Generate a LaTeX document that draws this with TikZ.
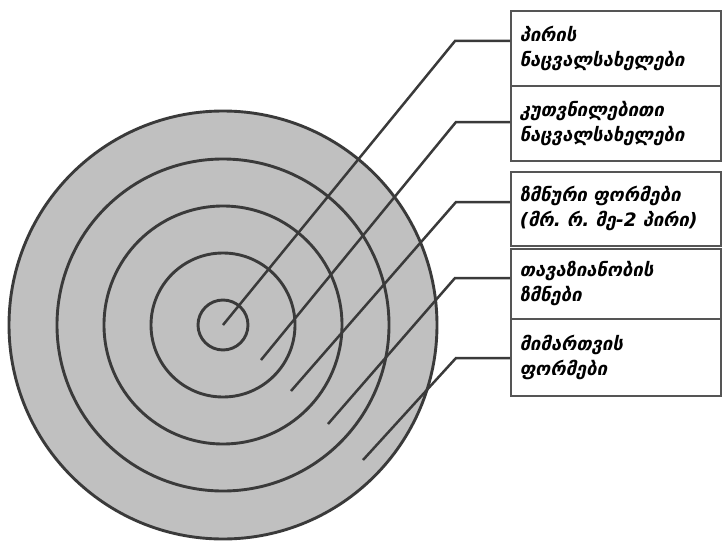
\documentclass[tikz,border=0pt]{standalone}
\usepackage{fontspec}
\newfontfamily\geofont[Script=Georgian]{DejaVu Sans}
\usepackage{tikz}
\definecolor{ringGray}{RGB}{192,192,192}
\definecolor{inkGray}{RGB}{58,58,58}
\definecolor{frameGray}{RGB}{85,85,85}

\begin{document}
\begin{tikzpicture}[x=1pt, y=-1pt,
  ring/.style={draw=inkGray, line width=2.9pt},
  leader/.style={draw=inkGray, line width=2.5pt},
  tag/.style={draw=frameGray, line width=1.6pt, anchor=north west, minimum width=210pt, text width=192pt, inner xsep=9pt, align=left, font=\geofont\bfseries\itshape\fontsize{18.5}{25}\selectfont}]
\useasboundingbox (0,0) rectangle (723,543);
% target rings
\coordinate (c) at (223,325);
\fill[ringGray] (c) circle[radius=214pt];
\foreach \r in {214,166,119,72,25} \draw[ring] (c) circle[radius=\r pt];
% label boxes
\node[tag, minimum height=75pt] (pron) at (510,10) {პირის\\ნაცვალსახელები};
\node[tag, minimum height=75pt] (poss) at (510,85) {კუთვნილებითი\\ნაცვალსახელები};
\node[tag, minimum height=74pt] (verb) at (510,171) {ზმნური ფორმები\\(მრ.~რ.~მე-2~პირი)};
\node[tag, minimum height=70pt] (polite) at (510,248) {თავაზიანობის\\ზმნები};
\node[tag, minimum height=77pt] (address) at (510,318) {მიმართვის\\ფორმები};
% leaders
\coordinate (s1) at (223,325); \coordinate (k1) at (455,41);
\coordinate (s2) at (261,360); \coordinate (k2) at (456,122);
\coordinate (s3) at (291,391); \coordinate (k3) at (456,202);
\coordinate (s4) at (328,424); \coordinate (k4) at (455,278);
\coordinate (s5) at (363,460); \coordinate (k5) at (456,358);
\draw[leader] (s1) -- (k1) -- (k1 -| pron.west);
\draw[leader] (s2) -- (k2) -- (k2 -| poss.west);
\draw[leader] (s3) -- (k3) -- (k3 -| verb.west);
\draw[leader] (s4) -- (k4) -- (k4 -| polite.west);
\draw[leader] (s5) -- (k5) -- (k5 -| address.west);
\end{tikzpicture}
\end{document}
